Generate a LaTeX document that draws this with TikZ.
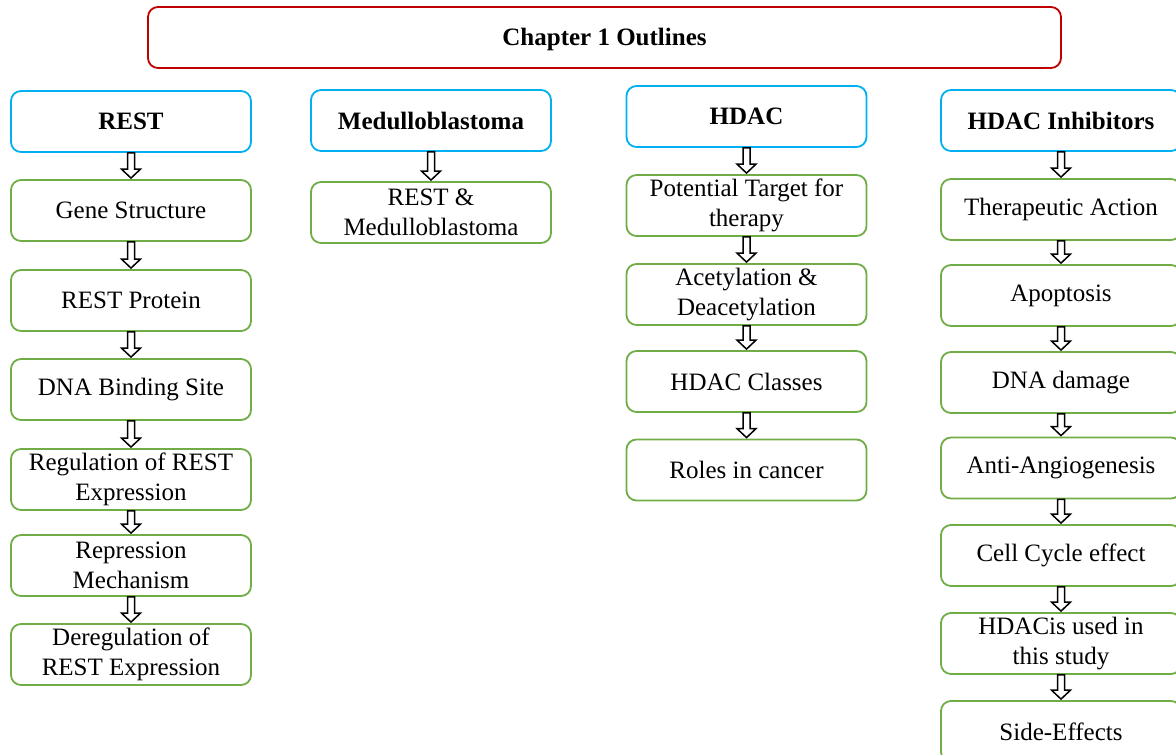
\documentclass[tikz,border=0pt]{standalone}
\usepackage{fontspec}
\setmainfont{Liberation Serif}
\usepackage{xcolor}
\usetikzlibrary{calc}
\definecolor{titlered}{HTML}{C00000}
\definecolor{headblue}{HTML}{00B0F0}
\definecolor{itemgreen}{HTML}{70AD47}
\tikzset{
  box/.style={draw, rounded corners=10pt, line width=1.8pt, minimum width=240pt, minimum height=61pt, inner sep=0pt, align=center, font=\fontsize{25}{30}\selectfont},
  outline/.style={box, draw=titlered, minimum width=913pt, text height=22pt, font=\fontsize{25}{30}\selectfont\bfseries},
  head/.style={box, draw=headblue, font=\fontsize{25}{30}\selectfont\bfseries},
  item/.style={box, draw=itemgreen},
  blockarr/.style={draw=black, fill=white, line width=1.5pt, line join=miter, shorten >=2pt,
    to path={let \p1=(\tikztostart), \p2=(\tikztotarget) in
      (\x1-3.5pt,\y1) -- (\x1+3.5pt,\y1) -- (\x1+3.5pt,\y2+10pt) -- (\x1+9.5pt,\y2+10pt)
      -- (\x1,\y2+1pt) -- (\x1-9.5pt,\y2+10pt) -- (\x1-3.5pt,\y2+10pt) -- cycle}}
}
\begin{document}
\begin{tikzpicture}[x=1pt, y=-1pt]
\useasboundingbox (0,0) rectangle (1176,755);
\clip (0,0) rectangle (1176,755);
\node[outline] (outl) at (604.5,37.5) {Chapter 1 Outlines};
% REST
\node[head] (rest) at (131,121.5) {REST};
\node[item] (gene) at (131,210.5) {Gene Structure};
\node[item] (prot) at (131,300.5) {REST Protein};
\node[item] (dnab) at (131,389.5) {DNA Binding Site};
\node[item] (regul) at (131,479.5) {Regulation of REST\\Expression};
\node[item] (repr) at (131,565.5) {Repression\\Mechanism};
\node[item] (dereg) at (131,654.5) {Deregulation of\\REST Expression};
% Medulloblastoma
\node[head] (medullo) at (431,120.5) {Medulloblastoma};
\node[item] (restmb) at (431,212.5) {REST \&\\Medulloblastoma};
% HDAC
\node[head] (hdac) at (746.5,116.5) {HDAC};
\node[item] (target) at (746.5,205.5) {Potential Target for\\therapy};
\node[item] (acetyl) at (746.5,294.5) {Acetylation \&\\Deacetylation};
\node[item] (classes) at (746.5,381.5) {HDAC Classes};
\node[item] (roles) at (746.5,470) {Roles in cancer};
% HDAC Inhibitors
\node[head] (inhib) at (1061,120.5) {HDAC Inhibitors};
\node[item] (thera) at (1061,209.5) {Therapeutic Action};
\node[item] (apopt) at (1061,295.5) {Apoptosis};
\node[item] (dnadam) at (1061,382.5) {DNA damage};
\node[item] (angio) at (1061,468) {Anti-Angiogenesis};
\node[item] (cycle) at (1061,555.5) {Cell Cycle effect};
\node[item] (used) at (1061,643.5) {HDACis used in\\this study};
\node[item] (side) at (1061,731.5) {Side-Effects};
\foreach \a/\b in {rest/gene, gene/prot, prot/dnab, dnab/regul, regul/repr, repr/dereg,
  medullo/restmb, hdac/target, target/acetyl, acetyl/classes, classes/roles,
  inhib/thera, thera/apopt, apopt/dnadam, dnadam/angio, angio/cycle, cycle/used, used/side}
  \draw[blockarr] (\a.south) to (\b.north);
\end{tikzpicture}
\end{document}
